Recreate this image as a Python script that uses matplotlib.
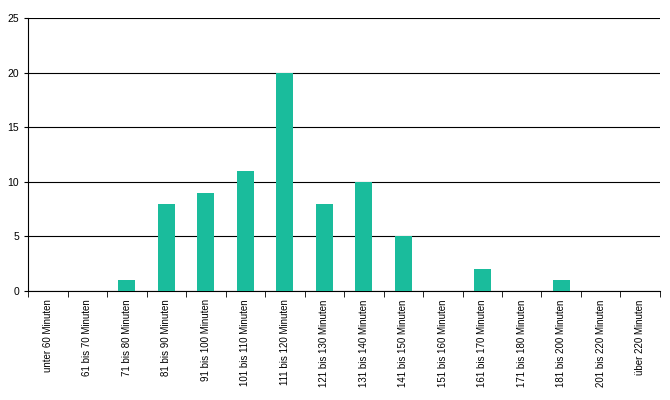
import numpy as np
import matplotlib
matplotlib.use("Agg")
import matplotlib.pyplot as plt

plt.rcParams['font.family'] = ['Liberation Sans', 'DejaVu Sans']

categories = ["unter 60 Minuten", "61 bis 70 Minuten", "71 bis 80 Minuten",
              "81 bis 90 Minuten", "91 bis 100 Minuten", "101 bis 110 Minuten",
              "111 bis 120 Minuten", "121 bis 130 Minuten", "131 bis 140 Minuten",
              "141 bis 150 Minuten", "151 bis 160 Minuten", "161 bis 170 Minuten",
              "171 bis 180 Minuten", "181 bis 200 Minuten", "201 bis 220 Minuten",
              "über 220 Minuten"]
values = [0, 0, 1, 8, 9, 11, 20, 8, 10, 5, 0, 2, 0, 1, 0, 0]

fig = plt.figure(figsize=(6.7, 4), dpi=100)
ax = fig.add_axes([0.042, 0.2725, 0.943, 0.6825])

x = np.arange(len(categories))
ax.bar(x, values, width=0.43, color='#1abc9c', zorder=3)

ax.set_xlim(-0.5, len(categories) - 0.5)
ax.set_ylim(0, 25)
ax.set_yticks(range(0, 26, 5))
ax.yaxis.grid(True, color='black', linewidth=0.8, zorder=0)

ax.set_xticks(x)
ax.set_xticklabels(categories, rotation=90, fontsize=7)
ax.tick_params(axis='x', which='major', length=0, pad=6)
ax.set_xticks(np.arange(-0.5, len(categories), 1), minor=True)
ax.tick_params(axis='x', which='minor', length=4, direction='out')
ax.tick_params(axis='y', labelsize=7.5, length=3)

for s in ['top', 'right']:
    ax.spines[s].set_visible(False)
for s in ['left', 'bottom']:
    ax.spines[s].set_linewidth(0.8)

fig.savefig("out.png", dpi=100)
